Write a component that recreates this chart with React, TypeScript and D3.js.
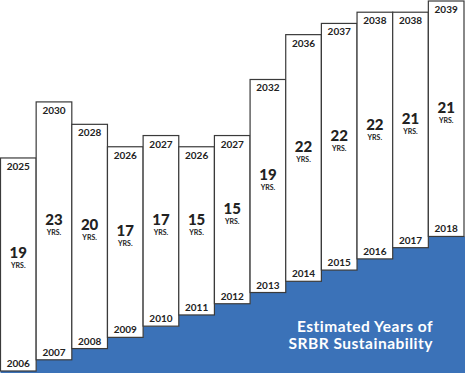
import * as d3 from "d3";
import * as React from "react";

// start year of each estimate (bottom of the bar)
const startYears = [2006, 2007, 2008, 2009, 2010, 2011, 2012, 2013, 2014, 2015, 2016, 2017, 2018];
// projected end year (top of the bar)
const endYears = [2025, 2030, 2028, 2026, 2027, 2026, 2027, 2032, 2036, 2037, 2038, 2038, 2039];
// estimated years of sustainability
const sustainYears = [19, 23, 20, 17, 17, 15, 15, 19, 22, 22, 22, 21, 21];

const titleLines = ["Estimated Years of", "SRBR Sustainability"];

const width = 465;
const height = 373;
const blue = "#3b72b8";
const ink = "#222222";
const font = "Lato, 'Open Sans', sans-serif";

export default function App() {
  const ref = React.useRef<SVGSVGElement>(null);

  React.useEffect(() => {
    const svg = d3.select(ref.current);
    svg.selectAll("*").remove();

    const idx = startYears.map((_, i) => i);

    const x = d3
      .scaleBand<number>()
      .domain(idx)
      .range([0.5, width - 1])
      .padding(0);

    const y = d3.scaleLinear().domain([2006, 2039]).range([371, 1]);

    // blue stepped area under the bar bottoms
    const stepPts: [number, number][] = idx.map((i) => [x(i)!, y(startYears[i])]);
    stepPts.push([width, y(startYears[startYears.length - 1])]);
    const area = d3
      .area<[number, number]>()
      .x((d) => d[0])
      .y0(height)
      .y1((d) => d[1])
      .curve(d3.curveStepAfter);

    svg.append("path").attr("d", area(stepPts)).attr("fill", blue);

    const g = svg
      .selectAll("g.bar")
      .data(idx)
      .enter()
      .append("g")
      .attr("class", "bar");

    g.append("rect")
      .attr("x", (i) => x(i)!)
      .attr("y", (i) => y(endYears[i]))
      .attr("width", x.bandwidth())
      .attr("height", (i) => y(startYears[i]) - y(endYears[i]))
      .attr("fill", "#ffffff")
      .attr("stroke", "#3a3a3a")
      .attr("stroke-width", 1.2);

    const cx = (i: number) => x(i)! + x.bandwidth() / 2;
    const mid = (i: number) => (y(startYears[i]) + y(endYears[i])) / 2;

    // top label: end year
    g.append("text")
      .attr("x", cx)
      .attr("y", (i) => y(endYears[i]) + 12)
      .attr("text-anchor", "middle")
      .attr("font-family", font)
      .attr("font-weight", 700)
      .attr("font-size", 10)
      .attr("fill", ink)
      .text((i) => endYears[i]);

    // bottom label: start year
    g.append("text")
      .attr("x", cx)
      .attr("y", (i) => y(startYears[i]) - 4)
      .attr("text-anchor", "middle")
      .attr("font-family", font)
      .attr("font-weight", 700)
      .attr("font-size", 10)
      .attr("fill", ink)
      .text((i) => startYears[i]);

    // middle: years of sustainability
    g.append("text")
      .attr("x", cx)
      .attr("y", (i) => mid(i) - 6)
      .attr("text-anchor", "middle")
      .attr("font-family", font)
      .attr("font-weight", 900)
      .attr("font-size", 15)
      .attr("fill", ink)
      .text((i) => sustainYears[i]);

    g.append("text")
      .attr("x", cx)
      .attr("y", (i) => mid(i) + 4)
      .attr("text-anchor", "middle")
      .attr("font-family", font)
      .attr("font-weight", 700)
      .attr("font-size", 7)
      .attr("fill", ink)
      .text("YRS.");

    // title in the blue area
    svg
      .append("g")
      .selectAll("text")
      .data(titleLines)
      .enter()
      .append("text")
      .attr("x", 433)
      .attr("y", (_, i) => 332 + i * 16.5)
      .attr("text-anchor", "end")
      .attr("font-family", font)
      .attr("font-weight", 700)
      .attr("font-size", 15.5)
      .attr("letter-spacing", 0.5)
      .attr("fill", "#ffffff")
      .text((d) => d);
  }, []);

  return (
    <svg
      ref={ref}
      width={width}
      height={height}
      style={{ position: "absolute", left: 0, top: 0, background: "#ffffff" }}
    />
  );
}
